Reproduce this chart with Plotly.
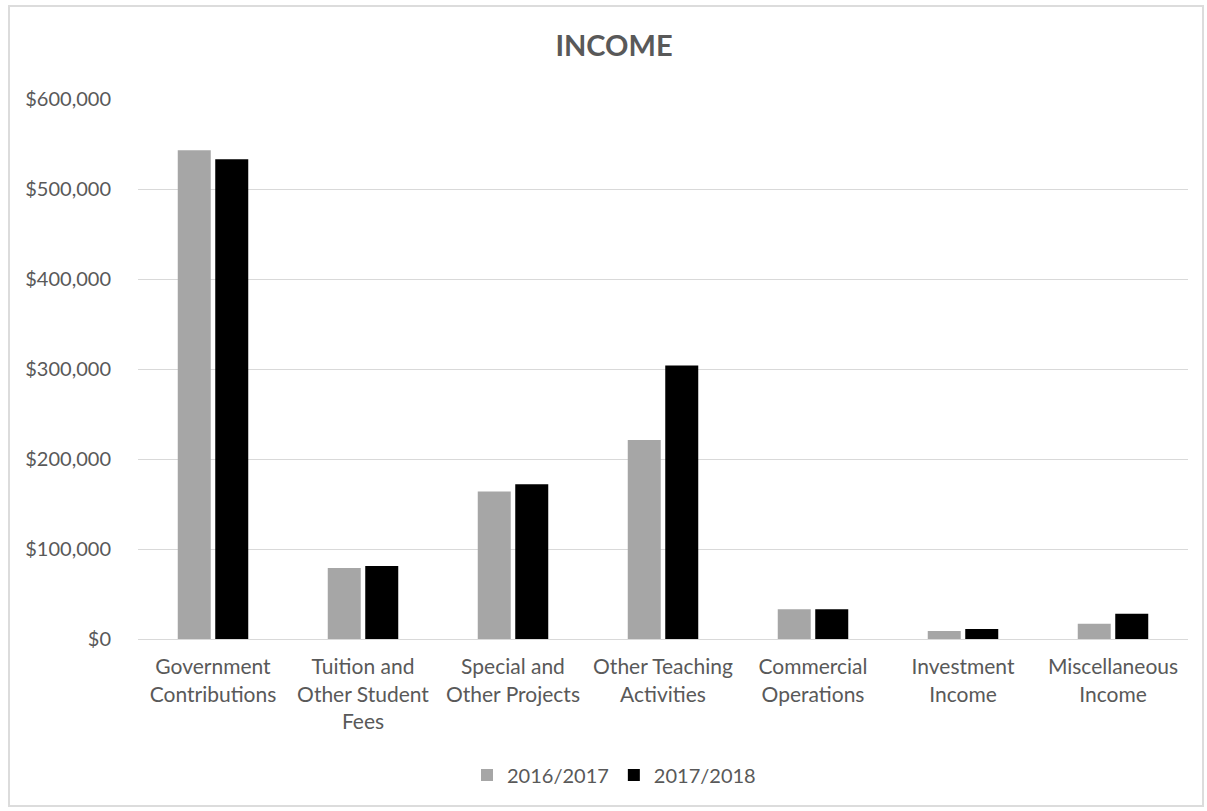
import plotly.graph_objects as go

categories = ["Government<br>Contributions", "Tuition and<br>Other Student<br>Fees",
              "Special and<br>Other Projects", "Other Teaching<br>Activities",
              "Commercial<br>Operations", "Investment<br>Income", "Miscellaneous<br>Income"]
series_names = ["2016/2017", "2017/2018"]
values_2016 = [543000, 79000, 164000, 221000, 33000, 9000, 17000]
values_2017 = [533000, 81000, 172000, 304000, 33000, 11000, 28000]
colors = ["#a6a6a6", "#000000"]
tick_vals = [0, 100000, 200000, 300000, 400000, 500000, 600000]
tick_text = ["$0", "$100,000", "$200,000", "$300,000", "$400,000", "$500,000", "$600,000"]

FONT = "Lato, 'Open Sans', sans-serif"
GRAY = "#595959"

fig = go.Figure()
for name, vals, c in zip(series_names, [values_2016, values_2017], colors):
    fig.add_trace(go.Bar(x=categories, y=vals, name=name, marker=dict(color=c, line=dict(width=0))))

fig.update_layout(
    width=1207, height=811,
    paper_bgcolor="white", plot_bgcolor="white",
    margin=dict(l=138, r=19, t=99, b=172, autoexpand=False),
    barmode="group", bargap=0.5, bargroupgap=0.12,
    title=dict(text="<b>INCOME</b>", x=614 / 1207, xanchor="center", y=1 - 46 / 811, yanchor="middle",
               font=dict(family=FONT, size=29, color=GRAY)),
    font=dict(family=FONT, size=20, color=GRAY),
    legend=dict(orientation="h", x=(614 - 138) / 1050, xanchor="center", y=(639 - 775) / 540, yanchor="middle",
                font=dict(family=FONT, size=20, color=GRAY), itemwidth=30,
                traceorder="normal", itemsizing="constant"),
    showlegend=True,
)
fig.update_xaxes(showgrid=False, showline=True, linecolor="#d9d9d9", linewidth=1,
                 ticks="", ticklabelstandoff=9, tickfont=dict(family=FONT, size=21, color=GRAY))
fig.update_yaxes(range=[0, 600000], tickvals=tick_vals, ticktext=tick_text,
                 showgrid=True, gridcolor="#d9d9d9", gridwidth=1, zeroline=False,
                 showline=False, ticks="", ticklabelstandoff=26,
                 tickfont=dict(family=FONT, size=20, color=GRAY))

# outer chart frame
fig.add_shape(type="rect", xref="paper", yref="paper",
              x0=(9 - 138) / 1050, x1=(1203 - 138) / 1050,
              y0=(639 - 806) / 540, y1=(639 - 6) / 540,
              line=dict(color="#dcdcdc", width=2), fillcolor="rgba(0,0,0,0)", layer="below")

fig.write_html("out.html")
